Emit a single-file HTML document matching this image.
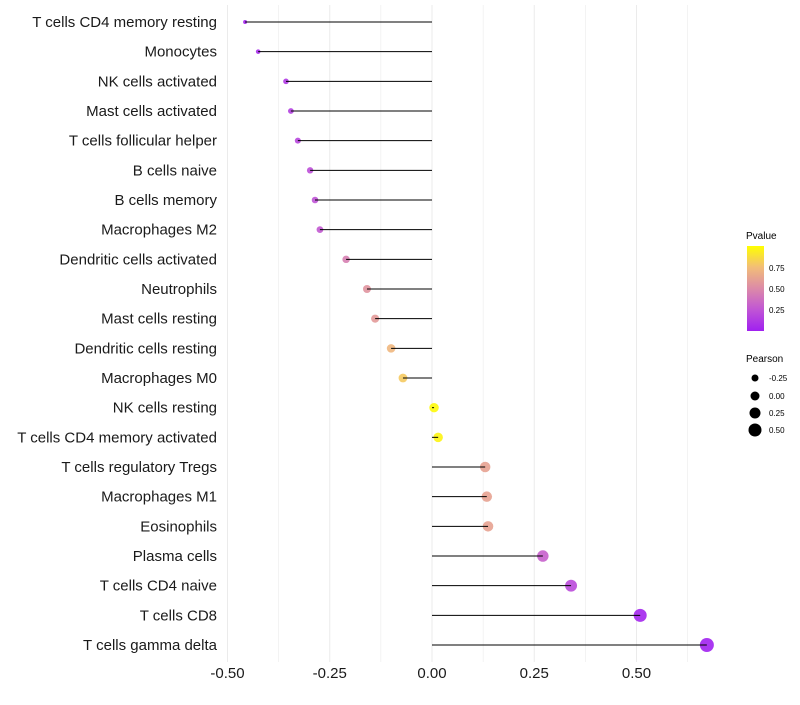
<!DOCTYPE html>
<html><head><meta charset="utf-8"><style>
body{margin:0;background:#fff;font-family:"Liberation Sans",sans-serif;}
svg text{font-family:"Liberation Sans",sans-serif;}
</style></head><body>
<svg id="chart" width="800" height="700">
<defs><linearGradient id="pg" x1="0" y1="1" x2="0" y2="0">
<stop offset="0" stop-color="#a020f0"/><stop offset="0.25" stop-color="#c055d5"/>
<stop offset="0.5" stop-color="#dc8aa8"/><stop offset="0.75" stop-color="#f2bd78"/>
<stop offset="1" stop-color="#ffff00"/></linearGradient></defs>
<g id="grid"></g><g id="marks"></g><g id="ylabels"></g><g id="xlabels"></g>
<g>
<text x="746" y="239" font-size="10">Pvalue</text>
<rect x="747" y="246" width="17" height="85" fill="url(#pg)"/>
<text x="769" y="271" font-size="8">0.75</text>
<text x="769" y="292" font-size="8">0.50</text>
<text x="769" y="313" font-size="8">0.25</text>
</g>
<g>
<text x="746" y="362" font-size="10">Pearson</text>
<circle cx="755" cy="378" r="3.5" fill="#000"/><text x="769" y="381" font-size="8">-0.25</text>
<circle cx="755" cy="396" r="4.5" fill="#000"/><text x="769" y="399" font-size="8">0.00</text>
<circle cx="755" cy="413" r="5.5" fill="#000"/><text x="769" y="416" font-size="8">0.25</text>
<circle cx="755" cy="430" r="6.5" fill="#000"/><text x="769" y="433" font-size="8">0.50</text>
</g>
</svg>
<script>
const categories=["T cells CD4 memory resting","Monocytes","NK cells activated","Mast cells activated","T cells follicular helper","B cells naive","B cells memory","Macrophages M2","Dendritic cells activated","Neutrophils","Mast cells resting","Dendritic cells resting","Macrophages M0","NK cells resting","T cells CD4 memory activated","T cells regulatory  Tregs ","Macrophages M1","Eosinophils","Plasma cells","T cells CD4 naive","T cells CD8","T cells gamma delta"];
const pearson=[-0.457,-0.425,-0.357,-0.345,-0.328,-0.298,-0.286,-0.274,-0.210,-0.159,-0.139,-0.100,-0.071,0.005,0.015,0.130,0.134,0.137,0.271,0.340,0.509,0.672];
const pvalues=[0.02,0.05,0.12,0.15,0.18,0.22,0.24,0.27,0.45,0.55,0.58,0.72,0.8,0.98,0.96,0.62,0.62,0.62,0.3,0.2,0.03,0.01];
const xTicks=[-0.5,-0.25,0,0.25,0.5];
const xTickLabels=["-0.50","-0.25","0.00","0.25","0.50"];
const NS="http://www.w3.org/2000/svg";
const xs=v=>432+v*409;
const ys=i=>22+i*29.667;
const stops=[[0,[160,32,240]],[0.25,[192,85,213]],[0.5,[220,138,168]],[0.75,[242,189,120]],[1,[255,255,0]]];
function col(p){for(let k=1;k<stops.length;k++){if(p<=stops[k][0]){const a=stops[k-1],b=stops[k],t=(p-a[0])/(b[0]-a[0]);return "rgb("+a[1].map((c,j)=>Math.round(c+(b[1][j]-c)*t)).join(",")+")";}}return "rgb(255,255,0)";}
function mk(t,at,parent){const e=document.createElementNS(NS,t);for(const k in at)e.setAttribute(k,at[k]);parent.appendChild(e);return e;}
const grid=document.getElementById('grid'),marks=document.getElementById('marks'),yl=document.getElementById('ylabels'),xl=document.getElementById('xlabels');
for(let v=-0.5;v<=0.7;v+=0.125){const g=mk('line',{x1:xs(v),x2:xs(v),y1:5,y2:662,stroke:'#ebebeb','stroke-width':Math.abs(v*4-Math.round(v*4))<1e-6?1:0.6},grid);

}
categories.forEach((c,i)=>{
const y=ys(i);
const t=mk('text',{x:217,y:y+5,'text-anchor':'end','font-size':15,fill:'#1a1a1a'},yl);t.textContent=c;


const v=pearson[i];
const circ=mk('circle',{cx:xs(v),cy:y,r:Math.sqrt(Math.max(1,22.2+39.9*v)),fill:col(pvalues[i]),'fill-opacity':0.9},marks);


const ln=mk('line',{x1:xs(0),x2:xs(v),y1:y,y2:y,stroke:'#000','stroke-width':1},marks);


});
xTicks.forEach((v,i)=>{const t=mk('text',{x:xs(v),y:678,'text-anchor':'middle','font-size':15,fill:'#1a1a1a'},xl);t.textContent=xTickLabels[i];

});
</script>
</body></html>
